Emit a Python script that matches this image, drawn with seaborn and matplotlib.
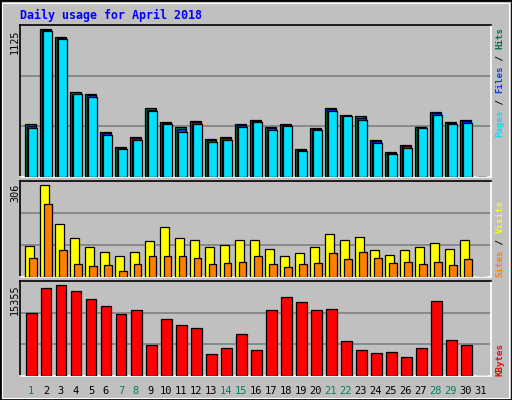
import matplotlib
matplotlib.use("Agg")
import matplotlib.pyplot as plt
import seaborn as sns
import numpy as np
import pandas as pd

days = list(range(1, 32))
day_labels = [str(d) for d in days]
weekend = [1, 7, 8, 14, 15, 21, 22, 28, 29]
hits = [400,1125,1064,644,629,346,227,303,522,422,384,430,293,303,407,438,384,400,216,377,529,476,461,285,193,247,384,499,422,438,0]
files = [388,1118,1056,636,621,334,222,294,514,414,365,418,281,294,395,430,372,396,208,369,517,468,450,273,185,235,380,488,414,426,0]
pages = [377,1110,1049,629,613,323,216,285,506,407,346,407,270,285,384,422,361,392,201,361,506,461,438,262,178,224,377,476,407,415,0]
visits = [104,306,174,128,101,84,68,84,118,164,128,124,101,107,121,121,94,71,81,98,141,121,134,91,74,88,98,114,94,121,0]
sites = [64,241,88,44,38,41,21,44,68,68,71,64,44,48,51,68,44,34,44,48,81,61,84,64,48,51,44,51,41,61,0]
kbytes = [10648,14851,15355,14346,13001,11824,10480,11152,5268,9639,8630,8126,3755,4763,7117,4427,11152,13338,12497,11152,11320,5940,4427,3923,4091,3250,4763,12665,6108,5268,0]

sns.set_theme(style="white")
plt.rcParams['font.family'] = ['DejaVu Sans Mono', 'DejaVu Sans']
BG = "#C0C0C0"
W, H = 512, 400
fig = plt.figure(figsize=(W/100, H/100), dpi=100, facecolor=BG)
fig.patches.append(plt.Rectangle((0, 0), 1, 1, transform=fig.transFigure, fill=False,
                                 edgecolor="black", linewidth=2))
fig.patches.append(plt.Rectangle((2/W, 2/H), 1-5/W, 1-5/H, transform=fig.transFigure, fill=False,
                                 edgecolor="white", linewidth=0.8))

def mkax(top, bottom):
    ax = fig.add_axes([20/W, (H-bottom)/H, 471/W, (bottom-top)/H])
    ax.set_facecolor(BG)
    for s in ["top", "left"]:
        ax.spines[s].set_color("black")
    for s in ["bottom", "right"]:
        ax.spines[s].set_color("white")
    for s in ax.spines.values():
        s.set_linewidth(1.2)
    ax.set_xlim(0.27, 31.67)
    ax.set_xticks([]); ax.set_yticks([])
    ax.set_xlabel(""); ax.set_ylabel("")
    return ax

d = np.array(days, dtype=float)
def bars(ax, xs, vals, w, color):
    df = pd.DataFrame({"x": xs, "v": vals})
    sns.barplot(data=df, x="x", y="v", native_scale=True, width=w, color=color,
                edgecolor="black", linewidth=0.9, saturation=1, ax=ax, zorder=3)

def grid(ax, ymax):
    for f in (1/3, 2/3):
        ax.axhline(ymax*f, color="#808080", lw=1.2, zorder=1)

ax1 = mkax(25, 177)
grid(ax1, 1158)
bars(ax1, d - 0.03, hits, 0.73, "#007050")
bars(ax1, d + 0.03, files, 0.62, "#0040FF")
bars(ax1, d + 0.10, pages, 0.56, "#00E0FF")
ax1.set_ylim(0, 1158)

ax2 = mkax(181, 277)
grid(ax2, 318)
bars(ax2, d - 0.11, visits, 0.58, "#FFFF00")
bars(ax2, d + 0.12, sites, 0.50, "#FF8000")
ax2.set_ylim(0, 318)

ax3 = mkax(281, 376)
grid(ax3, 15960)
bars(ax3, d + 0.02, kbytes, 0.70, "#FF0000")
ax3.set_ylim(0, 15960)
for ax in (ax1, ax2, ax3):
    ax.set_xlim(0.27, 31.67)
    ax.set_xticks([]); ax.set_yticks([])
    ax.set_xlabel(""); ax.set_ylabel("")

ax3.set_xticks(days)
ax3.set_xticklabels(day_labels, fontsize=7.5)
ax3.tick_params(axis="x", length=0, pad=7)
for lab, dd in zip(ax3.get_xticklabels(), days):
    lab.set_color("#008060" if dd in weekend else "black")

fig.text(20/W, 1-15/H, "Daily usage for April 2018", color="#0000FF", fontsize=8.4,
         fontweight="bold", va="center", ha="left")

for txt, y in [("1125", 29), ("306", 184), ("15355", 284)]:
    fig.text(15/W, 1-y/H, txt, rotation=90, fontsize=7.3, va="top", ha="center", color="black")

adv = 5.5
def rlabel(parts, ybottom):
    y = ybottom
    for s, c in parts:
        fig.text(500/W, 1-y/H, s, rotation=90, fontsize=6.6, fontweight="bold",
                 color=c, va="bottom", ha="center")
        y -= adv*len(s)

rlabel([("Pages", "#00E0FF"), (" / ", "black"), ("Files", "#0040FF"), (" / ", "black"), ("Hits", "#007050")], 137)
rlabel([("Sites", "#FF8000"), (" / ", "black"), ("Visits", "#FFFF00")], 277)
rlabel([("KBytes", "#FF0000")], 376)

fig.savefig("out.png", dpi=100, facecolor=BG)
